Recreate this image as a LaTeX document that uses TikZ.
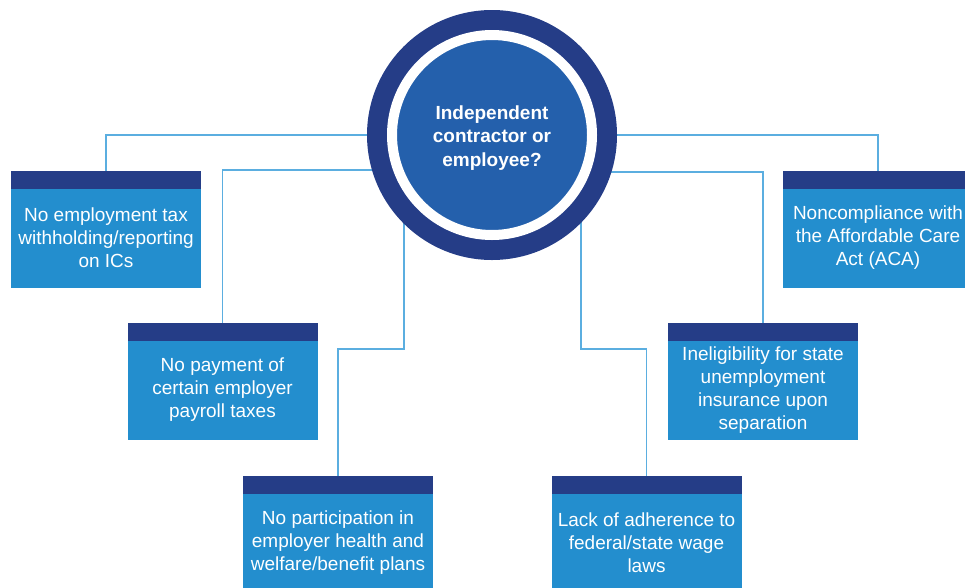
\documentclass[tikz,border=0pt]{standalone}
\usepackage{fontspec}
\setmainfont{Liberation Sans}
\usetikzlibrary{backgrounds}
\usetikzlibrary{positioning}
\definecolor{navy}{RGB}{37,61,135}
\definecolor{boxblue}{RGB}{35,142,206}
\definecolor{hubblue}{RGB}{36,96,172}
\definecolor{linkblue}{RGB}{91,174,224}

\begin{document}
\begin{tikzpicture}[
            x = 1pt, y = -1pt, % pixel grid, y runs down
            font = \fontsize{19}{23}\selectfont
        ]

        \tikzstyle{riskbox}=[
            fill = boxblue,
            text = white,
            align = center,
            minimum width = 190pt,
            minimum height = 99pt,
            inner sep = 0pt,
            outer sep = 0pt
        ]
        \tikzstyle{riskhead}=[
            fill = navy,
            minimum width = 190pt,
            minimum height = 18pt,
            inner sep = 0pt,
            outer sep = 0pt
        ]
        \tikzstyle{link}=[draw = linkblue, line width = 1.3pt]

        \useasboundingbox (0,0) rectangle (965,587);
        \clip (0,0) rectangle (965,587);

	% centre
        \node[circle, fill = navy, minimum size = 250pt, inner sep = 0pt] (ring) at (492,135) {};
        \node[circle, fill = hubblue, draw = white, line width = 10pt, minimum size = 200pt,
              inner sep = 0pt,
              label = {[text = white, align = center, yshift = -3pt,
                        font = \bfseries\fontsize{19}{23.5}\selectfont]center:Independent\\contractor or\\employee?}] (hub) at (ring) {};

	% boxes
        \node[riskbox] (tax) at (106,238) {No employment tax\\withholding/reporting\\on ICs};
        \node[riskbox] (payroll) at (222.5,390) {No payment of\\certain employer\\payroll taxes};
        \node[riskbox] (benefit) at (338,543) {No participation in\\employer health and\\welfare/benefit plans};
        \node[riskbox] (wage) at (646.5,543) {Lack of adherence to\\federal/state wage\\laws};
        \node[riskbox] (unemp) at (763,390) {Ineligibility for state\\unemployment\\insurance upon\\separation};
        \node[riskbox] (aca) at (878,238) {Noncompliance with\\the Affordable Care\\Act (ACA)};

        \node[riskhead, above = 0pt of tax] (taxh) {};
        \node[riskhead, above = 0pt of payroll] (payrollh) {};
        \node[riskhead, above = 0pt of benefit] (benefith) {};
        \node[riskhead, above = 0pt of wage] (wageh) {};
        \node[riskhead, above = 0pt of unemp] (unemph) {};
        \node[riskhead, above = 0pt of aca] (acah) {};

        \coordinate (kleft) at (404,349);
        \coordinate (kright) at (581,349);

          \begin{scope}[on background layer]
          \draw[link] (hub.center) -| (taxh.north);
          \draw[link] (hub.center) ++(0,35) -| (payrollh.north);
          \draw[link] (hub.center -| kleft) -- (kleft) -| (benefith.north);
          \draw[link] (hub.center -| kright) -- (kright) -| (wageh.north);
          \draw[link] (hub.center) ++(0,37) -| (unemph.north);
          \draw[link] (hub.center) -| (acah.north);
          \end{scope}

  \end{tikzpicture}
\end{document}
